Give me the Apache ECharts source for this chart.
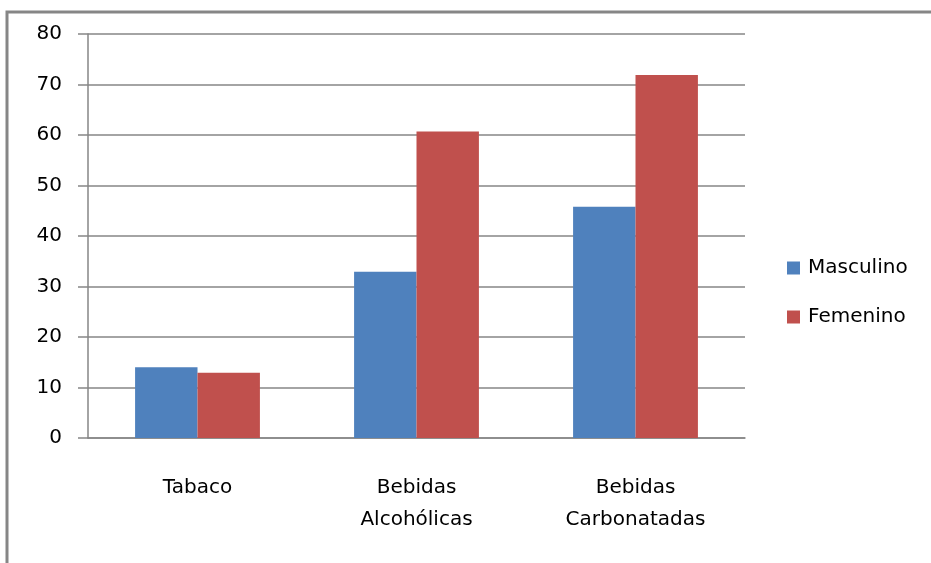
<!DOCTYPE html>
<html>
<head>
<meta charset="utf-8">
<script src="https://cdn.jsdelivr.net/npm/echarts@6/dist/echarts.min.js"></script>
<style>
  html, body { margin: 0; padding: 0; background: #fff; }
  #chart { width: 931px; height: 563px; }
</style>
</head>
<body>
<div id="chart"></div>
<script>
// Consumption by product and sex
const categories = ['Tabaco', 'Bebidas\nAlcohólicas', 'Bebidas\nCarbonatadas'];
const seriesNames = ['Masculino', 'Femenino'];
const masculino = [14, 32.9, 45.8];
const femenino = [12.9, 60.7, 71.9];
const yTicks = [0, 10, 20, 30, 40, 50, 60, 70, 80];

const FONT = 'DejaVu Sans';
const GRAY = '#868686';

const chart = echarts.init(document.getElementById('chart'), null, { renderer: 'canvas' });
chart.setOption({
  animation: false,
  backgroundColor: '#ffffff',
  graphic: [
    // outer frame (top and left edges)
    { type: 'polyline', shape: { points: [[7, 600], [7, 12], [960, 12]] },
      style: { stroke: GRAY, lineWidth: 3, fill: null } }
  ],
  grid: { left: 88, right: 186, top: 34, bottom: 125, containLabel: false },
  legend: {
    orient: 'vertical',
    left: 782,
    top: 253,
    itemWidth: 13,
    itemHeight: 13,
    itemGap: 29,
    icon: 'rect',
    data: seriesNames,
    textStyle: { fontFamily: FONT, fontSize: 20, color: '#000', padding: [0, 0, 0, 3] }
  },
  xAxis: {
    type: 'category',
    data: categories,
    axisLine: { show: true, lineStyle: { color: GRAY, width: 1.5 } },
    axisTick: { show: false },
    axisLabel: { fontFamily: FONT, fontSize: 20, color: '#000', lineHeight: 32, margin: 34 }
  },
  yAxis: {
    type: 'value',
    min: yTicks[0],
    max: yTicks[yTicks.length - 1],
    interval: 10,
    axisLine: { show: true, lineStyle: { color: GRAY, width: 1.5 } },
    axisTick: { show: true, length: 10, lineStyle: { color: GRAY, width: 1.5 } },
    splitLine: { show: true, lineStyle: { color: GRAY, width: 1.5 } },
    axisLabel: { fontFamily: FONT, fontSize: 20, color: '#000', margin: 26 }
  },
  series: [
    { name: seriesNames[0], type: 'bar', data: masculino, barWidth: '28.5%', barGap: '0%',
      itemStyle: { color: '#4F81BD' } },
    { name: seriesNames[1], type: 'bar', data: femenino, barWidth: '28.5%', barGap: '0%',
      itemStyle: { color: '#C0504D' } }
  ]
});
</script>
</body>
</html>
